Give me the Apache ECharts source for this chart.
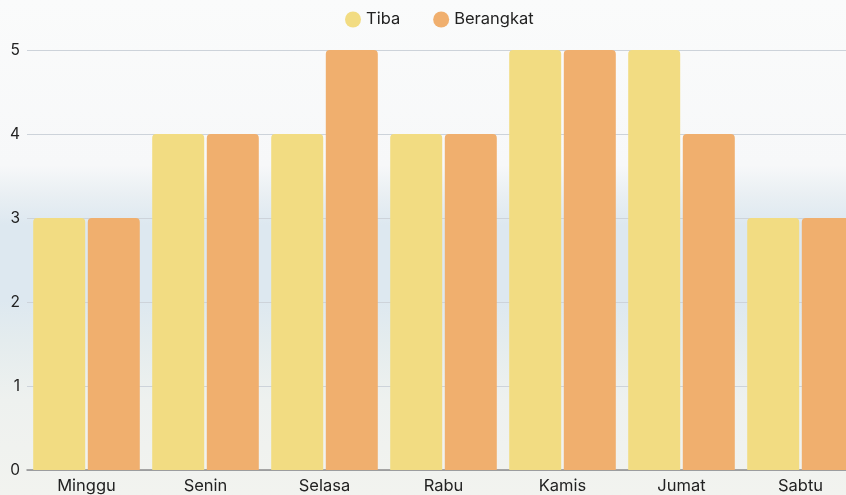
<!DOCTYPE html>
<html>
<head>
<meta charset="utf-8">
<script src="https://cdn.jsdelivr.net/npm/echarts@6/dist/echarts.min.js"></script>
<style>
html,body{margin:0;padding:0;}
#main{width:846px;height:495px;background:linear-gradient(to bottom,#fafbfb 0px,#f7f8f9 165px,#e9eff3 195px,#dde8f0 225px,#dde8f0 300px,#e4ecee 340px,#eef1ef 400px,#f2f3ef 495px);}
</style>
</head>
<body>
<div id="main"></div>
<script>
var categories = ["Minggu","Senin","Selasa","Rabu","Kamis","Jumat","Sabtu"];
var seriesNames = ["Tiba","Berangkat"];
var tibaValues = [3,4,4,4,5,5,3];
var berangkatValues = [3,4,5,4,5,4,3];
var yTicks = [0,1,2,3,4,5];

var chart = echarts.init(document.getElementById('main'), null, {renderer:'canvas'});
chart.setOption({
  backgroundColor: 'transparent',
  textStyle: {fontFamily: 'Inter'},
  legend: {
    top: 6,
    left: 340,
    itemWidth: 16, itemHeight: 16, icon: 'circle', itemGap: 33,
    textStyle: {fontSize: 16.5, color: '#222', fontFamily: 'Inter'},
    data: seriesNames
  },
  grid: {left: 27, top: 50, width: 833, bottom: 25, containLabel: false, outerBoundsMode: 'none'},
  xAxis: {
    type: 'category',
    data: categories,
    axisTick: {show: false},
    axisLine: {lineStyle: {color: '#8c8c8c', width: 1.5}},
    axisLabel: {fontSize: 16.5, color: '#222', margin: 8, fontFamily: 'Inter'}
  },
  yAxis: {
    type: 'value',
    min: yTicks[0], max: yTicks[yTicks.length-1], interval: 1,
    axisLabel: {fontSize: 15.5, color: '#222', margin: 7, fontFamily: 'Inter'},
    splitLine: {lineStyle: {color: '#cdd3da', width: 1}},
    axisLine: {show: false}, axisTick: {show: false}
  },
  series: [
    {name: seriesNames[0], type: 'bar', data: tibaValues, barWidth: 52, barGap: '5%',
     itemStyle: {color: '#f2dc82', borderRadius: [4,4,0,0]}},
    {name: seriesNames[1], type: 'bar', data: berangkatValues, barWidth: 52,
     itemStyle: {color: '#f0af6e', borderRadius: [4,4,0,0]}}
  ]
});
</script>
</body>
</html>
